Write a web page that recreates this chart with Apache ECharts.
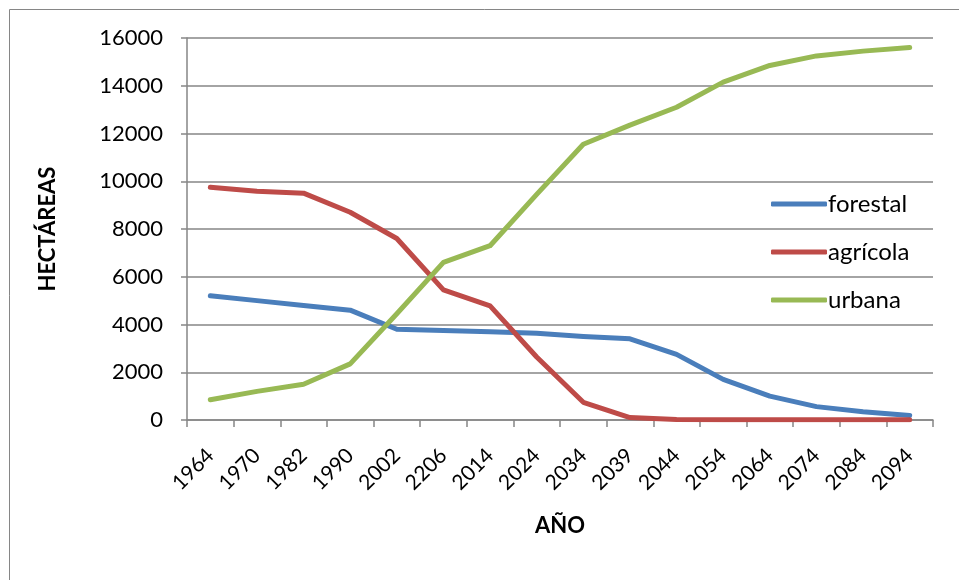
<!DOCTYPE html>
<html>
<head>
<meta charset="utf-8">
<script src="https://cdn.jsdelivr.net/npm/echarts@6/dist/echarts.min.js"></script>
<style>
  html, body { margin: 0; padding: 0; background: #fff; }
  #chart { width: 959px; height: 580px; }
</style>
</head>
<body>
<div id="chart"></div>
<script>
// Años (categorías del eje X)
const years = ['1964','1970','1982','1990','2002','2206','2014','2024','2034','2039','2044','2054','2064','2074','2084','2094'];

// Superficie por uso de suelo, en hectáreas
const forestal = [5200, 5000, 4800, 4600, 3800, 3750, 3700, 3630, 3500, 3400, 2750, 1700, 1000, 560, 350, 190];
const agricola = [9750, 9580, 9500, 8700, 7600, 5450, 4780, 2640, 740, 100, 20, 10, 10, 10, 10, 10];
const urbana   = [850, 1200, 1500, 2350, 4450, 6600, 7300, 9450, 11550, 12350, 13100, 14150, 14850, 15250, 15450, 15600];

const seriesNames = ['forestal', 'agrícola', 'urbana'];
const seriesColors = ['#4A7EBB', '#BE4B48', '#98B954'];
const yTicks = { min: 0, max: 16000, interval: 2000 };

const FONT = 'Lato, "Noto Sans", sans-serif';
const GRID_GRAY = '#868686';

const chart = echarts.init(document.getElementById('chart'), null, { renderer: 'canvas' });

const lineSeries = [forestal, agricola, urbana].map((data, i) => ({
  name: seriesNames[i],
  type: 'line',
  data: data,
  symbol: 'none',
  lineStyle: { width: 5, color: seriesColors[i], cap: 'round', join: 'round' },
  itemStyle: { color: seriesColors[i] }
}));

chart.setOption({
  animation: false,
  backgroundColor: '#fff',
  graphic: [{
    type: 'rect',
    shape: { x: 9.5, y: 9.5, width: 1000, height: 600 },
    style: { fill: 'none', stroke: GRID_GRAY, lineWidth: 1 },
    silent: true
  }],
  grid: { left: 187, right: 26, top: 38, bottom: 160 },
  legend: {
    orient: 'vertical',
    left: 766,
    top: 185,
    itemWidth: 56,
    itemHeight: 5,
    itemGap: 20,
    icon: 'roundRect',
    textStyle: { fontFamily: FONT, fontSize: 24, lineHeight: 28, color: '#000', padding: [0, 0, 0, -4] },
    data: seriesNames.map((n, i) => ({ name: n, itemStyle: { color: seriesColors[i] } }))
  },
  xAxis: {
    type: 'category',
    data: years,
    boundaryGap: true,
    name: 'AÑO',
    nameLocation: 'middle',
    nameGap: 95,
    nameTextStyle: { fontFamily: FONT, fontSize: 22, fontWeight: 'bold', color: '#000' },
    axisLine: { lineStyle: { color: GRID_GRAY, width: 1.5 } },
    axisTick: { show: true, alignWithLabel: false, length: 7, lineStyle: { color: GRID_GRAY, width: 1.5 } },
    axisLabel: { rotate: 45, margin: 32, interval: 0, fontFamily: FONT, fontSize: 21, color: '#000' },
    splitLine: { show: false }
  },
  yAxis: {
    type: 'value',
    min: yTicks.min,
    max: yTicks.max,
    interval: yTicks.interval,
    name: 'HECTÁREAS',
    nameLocation: 'middle',
    nameGap: 128,
    nameRotate: 90,
    nameTextStyle: { fontFamily: FONT, fontSize: 22, fontWeight: 'bold', color: '#000' },
    axisLine: { show: true, lineStyle: { color: GRID_GRAY, width: 1.5 } },
    axisTick: { show: true, length: 6, lineStyle: { color: GRID_GRAY, width: 1.5 } },
    axisLabel: { margin: 24, fontFamily: FONT, fontSize: 22, color: '#000', formatter: v => String(v) },
    splitLine: { show: true, lineStyle: { color: GRID_GRAY, width: 1.5 } }
  },
  series: lineSeries
});
</script>
</body>
</html>
